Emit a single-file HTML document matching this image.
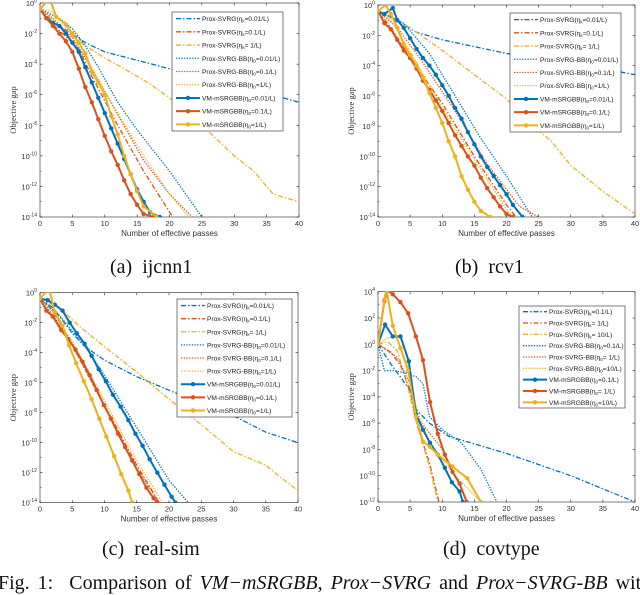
<!DOCTYPE html>
<html><head><meta charset="utf-8">
<style>
html,body{margin:0;padding:0;background:#fff;}
body{width:640px;height:592px;overflow:hidden;position:relative;font-family:"Liberation Sans",sans-serif;}
svg{position:absolute;left:0;top:0;}
.cap{position:absolute;font-family:"Liberation Serif",serif;font-size:20px;color:#111;white-space:nowrap;}
</style></head>
<body>
<svg id="fig" width="640" height="592" viewBox="0 0 640 592"></svg>
<div class="cap" style="left:110px;top:256px">(a)&nbsp; ijcnn1</div>
<div class="cap" style="left:455px;top:256px">(b)&nbsp; rcv1</div>
<div class="cap" style="left:102px;top:538px">(c)&nbsp; real-sim</div>
<div class="cap" style="left:443px;top:538px">(d)&nbsp; covtype</div>
<div class="cap" style="left:-2px;top:572px;word-spacing:3px">Fig. 1:&nbsp; Comparison of <i>VM−mSRGBB</i>, <i>Prox−SVRG</i> and <i>Prox−SVRG-BB</i> with</div>
<script>
// x ticks shared
const xTicks = [0,5,10,15,20,25,30,35,40];
// legend labels [name, eta-sub, value]
const legendA = [["Prox-SVRG(","k","=0.01/L)"],["Prox-SVRG(","k","=0.1/L)"],["Prox-SVRG(","k","= 1/L)"],["Prox-SVRG-BB(","0","=0.01/L)"],["Prox-SVRG-BB(","0","=0.1/L)"],["Prox-SVRG-BB(","0","=1/L)"],["VM-mSRGBB(","0","=0.01/L)"],["VM-mSRGBB(","0","=0.1/L)"],["VM-mSRGBB(","0","=1/L)"]];
const legendD = [["Prox-SVRG(","k","=0.1/L)"],["Prox-SVRG(","k","= 1/L)"],["Prox-SVRG(","k","= 10/L)"],["Prox-SVRG-BB(","0","=0.1/L)"],["Prox-SVRG-BB(","0","= 1/L)"],["Prox-SVRG-BB(","0","=10/L)"],["VM-mSRGBB(","0","=0.1/L)"],["VM-mSRGBB(","0","= 1/L)"],["VM-mSRGBB(","0","=10/L)"]];
// series values: [passes, log10(objective gap)]
const seriesA = [
 [[0,-0.4],[2,-1.2],[7,-2.6],[10,-3.2],[20,-4.3],[30,-5.3],[40,-6.5]],
 [[0,-0.4],[1,-1],[3,-1.8],[6,-3],[8,-4.8],[12,-8],[16,-11],[20.5,-14]],
 [[0,-0.4],[3,-1.5],[7,-2.8],[10,-3.6],[13,-4.3],[17,-5.3],[20,-6.2],[25,-8],[30,-10],[33,-11],[36,-12.5],[40,-13]],
 [[0,-0.4],[3,-1],[5,-1.7],[7,-2.8],[9,-4.2],[12,-6.5],[15,-8.3],[20,-11],[25,-14]],
 [[0,-0.4],[2,-1],[5,-2.3],[8,-4.3],[12,-7.3],[16,-10.3],[20,-12.5],[23.5,-14]],
 [[0,-0.4],[2,-0.6],[4,-1.6],[7,-3.5],[11,-6.5],[16,-10],[20,-12.5],[23,-14]],
 [[0,-0.4],[1,-1],[2,-1.3],[3,-1.5],[4,-2],[5,-2.6],[6,-3.2],[7,-4.2],[8,-5.2],[9,-6.2],[10,-7.2],[11,-8.2],[12,-9.2],[13,-10.2],[14,-11.2],[15,-12.2],[16,-13],[17,-13.7],[18.5,-14]],
 [[0,-0.4],[1,-1],[2,-1.5],[3,-2],[4,-2.5],[5,-3.2],[6,-4.3],[7,-5.5],[8,-6.5],[9,-7.6],[10,-8.7],[11,-9.7],[12,-10.6],[13,-11.6],[14,-12.5],[15,-13.2],[16,-13.8],[17.5,-14]],
 [[0,-0.4],[1.5,0.3],[2.5,-0.9],[4,-1.4],[5,-2],[6,-2.6],[7,-3.3],[8,-4.5],[9,-5.2],[10,-6],[11,-7.4],[12,-8.6],[13,-10],[14,-11.2],[15,-12.3],[16,-13.3],[18,-14]]
];
const seriesB = [
 [[0,-0.4],[3,-1],[6,-1.8],[10,-2.3],[20,-3.2],[30,-3.8],[40,-4.6]],
 [[0,-0.4],[2,-1.5],[5,-3.5],[10,-6.5],[15,-10],[20,-13.2],[21.5,-14]],
 [[0,-0.4],[5,-1.5],[10,-3],[15,-4.6],[20,-6.2],[25,-8.3],[27,-9],[30,-10.6],[35,-12.3],[40,-13.8]],
 [[0,-0.4],[4,-1.2],[8,-3.2],[12,-6],[16,-8.8],[20,-11.3],[24,-14]],
 [[0,-0.4],[3,-1.5],[7,-3.8],[12,-7],[17,-10.5],[22,-13.3],[25,-14]],
 [[0,-0.4],[2,-1],[6,-3.8],[10,-6.8],[15,-10.2],[20,-13.5],[21,-14]],
 [[0,-0.4],[1,-0.6],[2.3,-0.2],[3,-1],[4,-1.5],[5,-2.2],[6,-2.9],[7,-3.5],[8,-4],[9,-4.6],[10,-5.3],[11,-6],[12,-6.8],[13,-7.5],[14,-8.4],[15,-9.2],[16,-10],[17,-10.7],[18,-11.3],[19,-11.9],[20,-12.5],[21,-13.2],[22.5,-14]],
 [[0,-0.4],[1,-1.2],[2,-1.6],[3,-2.3],[4,-3],[5,-3.5],[6,-4.2],[7,-5],[8,-5.6],[9,-6.3],[10,-7],[11,-7.8],[12,-8.6],[13,-9.3],[14,-10],[15,-10.6],[16,-11.4],[17,-12.1],[18,-12.7],[19,-13.3],[20,-13.8],[21,-14]],
 [[0,-0.4],[1.2,0],[2,-0.6],[3,-1.5],[4,-2.6],[5,-3.3],[6,-4],[7,-4.8],[8,-5.8],[9,-6.8],[10,-7.8],[11,-9],[12,-10],[13,-11.3],[14,-12.2],[15,-13],[16,-13.6],[17.5,-14]]
];
const seriesC = [
 [[0,-0.4],[2,-1],[5,-2.7],[7,-3.6],[10,-4.5],[15,-5.6],[20,-6.5],[25,-7.4],[30,-8.2],[35,-9.3],[40,-10]],
 [[0,-0.4],[2,-1.2],[5,-3.5],[10,-7.5],[15,-11.5],[18.5,-14]],
 [[0,-0.4],[3,-1],[6,-2.2],[10,-3.6],[15,-5.3],[20,-7.1],[25,-8.8],[30,-10.6],[35,-11.5],[37,-12.2],[40,-13.2]],
 [[0,-0.4],[3,-1.5],[7,-3.6],[10,-5.5],[15,-9],[20,-12.5],[23,-14]],
 [[0,-0.4],[2,-1.5],[5,-3.5],[10,-7.6],[15,-11.7],[18.5,-14]],
 [[0,-0.4],[2,-1.3],[5,-3.3],[10,-7.2],[15,-11.2],[19,-14]],
 [[0,-0.4],[1.2,-0.5],[2.3,-0.8],[3.5,-1.2],[4.6,-2],[5.7,-2.7],[6.9,-3.4],[8,-4.2],[9.1,-5.1],[10.2,-5.9],[11.3,-6.8],[12.5,-7.6],[13.7,-8.5],[14.8,-9.4],[15.9,-10.2],[17,-11.1],[18.2,-12],[19.3,-12.8],[20.4,-13.6],[21,-14]],
 [[0,-0.4],[1,-1.2],[2,-1.6],[3.3,-2.5],[4.4,-3.1],[5.5,-3.8],[6.6,-4.6],[7.7,-5.5],[8.8,-6.5],[9.9,-7.5],[11,-8.4],[12.1,-9.4],[13.2,-10.3],[14.3,-11.2],[15.4,-12.1],[16.5,-13],[17.6,-13.7],[18.2,-14]],
 [[0,-0.4],[1,0.1],[1.5,0.1],[2.3,-1.3],[3.5,-2.2],[4.5,-3.5],[5.6,-4.7],[6.8,-5.9],[8,-7.1],[9.2,-8.4],[10.3,-9.6],[11.5,-10.9],[12.6,-12.1],[13.7,-13.2],[14.3,-14]]
];
const seriesD = [
 [[0,0],[2,-1.5],[5,-3.5],[6,-5],[8,-6],[11,-7],[20,-8.3],[30,-10],[40,-12]],
 [[0,0],[2,-0.6],[3.5,-1.6],[5,-3.5],[6,-6],[8,-9],[9.5,-12]],
 [[0,0],[1.5,0.2],[3,-0.5],[4.5,-3],[6,-6],[8,-9.3],[9.3,-12]],
 [[0,0],[1,-2],[2.5,-2],[4.5,-2.2],[6,-2.5],[7,-3],[8,-5.5],[10,-6.5],[13,-7.5],[16,-9.5],[18.5,-12]],
 [[0,0],[3,-1],[5,-3],[6,-5.5],[10,-8],[13,-11],[14,-12]],
 [[0,0],[1.5,0.5],[3,0.5],[5,-2.2],[6,-5],[8,-7.5],[12,-10],[16,-12]],
 [[0,0],[1.1,1.5],[2.3,0.6],[3.5,0.6],[4.8,-1.3],[5.9,-5.3],[7,-6.5],[8.1,-7.5],[9.3,-8.4],[10.4,-9.4],[11.5,-10.5],[12.7,-11.2],[13.2,-12]],
 [[0,0],[1,3.3],[1.5,4.1],[2.3,3.8],[3.5,3.2],[4.7,2.35],[5.9,0.6],[7,-1.2],[8.1,-4.4],[9.3,-6.8],[10.4,-8.4],[11.6,-9.7],[12.7,-10.6],[13.8,-12]],
 [[0,0],[1,3.4],[1.3,4.2],[2.3,1.4],[3.5,-0.3],[4.7,-2],[5.9,-5.5],[7,-7.4],[8.1,-7.8],[9.3,-8.4],[11.6,-9.3],[13.9,-10.2],[16,-12]]
];

const NS="http://www.w3.org/2000/svg";
const svg=document.getElementById('fig');
const colors=["#0072BD","#D95319","#EDB120"];
function mk(tag,attrs,parent){const e=document.createElementNS(NS,tag);for(const k in attrs)e.setAttribute(k,attrs[k]);(parent||svg).appendChild(e);return e;}
function styleOf(i){
  const c=colors[i%3];
  if(i<3) return {stroke:c,"stroke-width":1.3,"stroke-dasharray":"5,2,1.5,2",fill:"none"};
  if(i<6) return {stroke:c,"stroke-width":1.3,"stroke-dasharray":"1.3,1.4",fill:"none"};
  return {stroke:c,"stroke-width":2,fill:"none"};
}
function panel(id,P,series,legend){
  const g=mk('g',{});
  
  
  const xs=v=>P.x0+(v/40)*(P.x1-P.x0);
  const ys=v=>P.y0+(P.ymax-v)/(P.ymax-P.ymin)*(P.y1-P.y0);
  const cp=mk('clipPath',{id:'cp'+id},g);
  mk('rect',{x:P.x0,y:P.y0,width:P.x1-P.x0,height:P.y1-P.y0},cp);
  const frame=mk('rect',{x:P.x0,y:P.y0,width:P.x1-P.x0,height:P.y1-P.y0,fill:"#fff",stroke:"#262626","stroke-width":0.6},g);
  
  
  xTicks.forEach(t=>{
    const x=xs(t);
    mk('line',{x1:x,x2:x,y1:P.y1,y2:P.y1-2.5,stroke:"#262626","stroke-width":0.6},g);
    mk('line',{x1:x,x2:x,y1:P.y0,y2:P.y0+2.5,stroke:"#262626","stroke-width":0.6},g);
    const tx=mk('text',{x:x,y:P.y1+9,"font-size":7.5,"text-anchor":"middle",fill:"#333"},g);
    tx.textContent=t;
    
    
  });
  for(let v=P.ymax;v>=P.ymin;v-=2){
    const y=ys(v);
    mk('line',{x1:P.x0,x2:P.x0+2.5,y1:y,y2:y,stroke:"#262626","stroke-width":0.6},g);
    mk('line',{x1:P.x1,x2:P.x1-2.5,y1:y,y2:y,stroke:"#262626","stroke-width":0.6},g);
    const tx=mk('text',{x:P.x0-3,y:y+3,"font-size":7.5,"text-anchor":"end",fill:"#333"},g);
    
    
    const a=mk('tspan',{},tx);a.textContent="10";
    const b=mk('tspan',{"font-size":5,dy:-3.5},tx);b.textContent=String(v);
  }
  for(let v=P.ymax-1;v>P.ymin;v-=2){
    const y=ys(v);
    mk('line',{x1:P.x0,x2:P.x0+1.5,y1:y,y2:y,stroke:"#262626","stroke-width":0.5},g);
  }
  const xl=mk('text',{x:(P.x0+P.x1)/2,y:P.y1+19,"font-size":8,"text-anchor":"middle",fill:"#333"},g);
  xl.textContent="Number of effective passes";
  
  
  const yl=mk('text',{x:0,y:0,"font-size":8.5,"text-anchor":"middle",fill:"#333","font-family":"Liberation Serif, serif",transform:`translate(${P.x0-24},${(P.y0+P.y1)/2}) rotate(-90)`},g);
  yl.textContent="Objective gap";
  
  
  const lg=mk('g',{"clip-path":`url(#cp${id})`},g);
  series.forEach((pts,i)=>{
    const d=pts.map((p,j)=>(j?'L':'M')+xs(p[0]).toFixed(1)+','+ys(p[1]).toFixed(1)).join('');
    const pa=mk('path',Object.assign({d:d},styleOf(i)),lg);
    
    
    if(i>=6){pts.forEach(p=>{
      const c=mk('circle',{cx:xs(p[0]),cy:ys(p[1]),r:2.2,fill:colors[i%3]},lg);
      
      
    });}
  });
  const L=P.leg;
  const box=mk('rect',{x:L.x,y:L.y,width:L.w,height:L.h,fill:"#fff",stroke:"#262626","stroke-width":0.6},g);
  
  
  const rh=L.h/9;
  legend.forEach((lab,i)=>{
    const y=L.y+rh*(i+0.5);
    mk('line',Object.assign({x1:L.x+4,x2:L.x+28,y1:y,y2:y},styleOf(i)),g);
    if(i>=6) mk('circle',{cx:L.x+16,cy:y,r:2.2,fill:colors[i%3]},g);
    const t=mk('text',{x:L.x+30,y:y+2.5,"font-size":6.6,fill:"#222"},g);
    
    
    const a=mk('tspan',{},t);a.textContent=lab[0]+"η";
    const b=mk('tspan',{"font-size":4.5,dy:1.5},t);b.textContent=lab[1];
    const c=mk('tspan',{dy:-1.5},t);c.textContent=lab[2];
  });
}
panel('a',{x0:40,x1:299,y0:3,y1:217,ymax:0,ymin:-14,leg:{x:172,y:12,w:111,h:119}},seriesA,legendA);
panel('b',{x0:378,x1:635,y0:5,y1:217,ymax:0,ymin:-14,leg:{x:510,y:13,w:111,h:119}},seriesB,legendA);
panel('c',{x0:40,x1:298,y0:292.7,y1:502.7,ymax:0,ymin:-14,leg:{x:177,y:299,w:115,h:118}},seriesC,legendA);
panel('d',{x0:378,x1:635,y0:291.7,y1:502,ymax:4,ymin:-12,leg:{x:519,y:306,w:106,h:102}},seriesD,legendD);
</script>
</body></html>
